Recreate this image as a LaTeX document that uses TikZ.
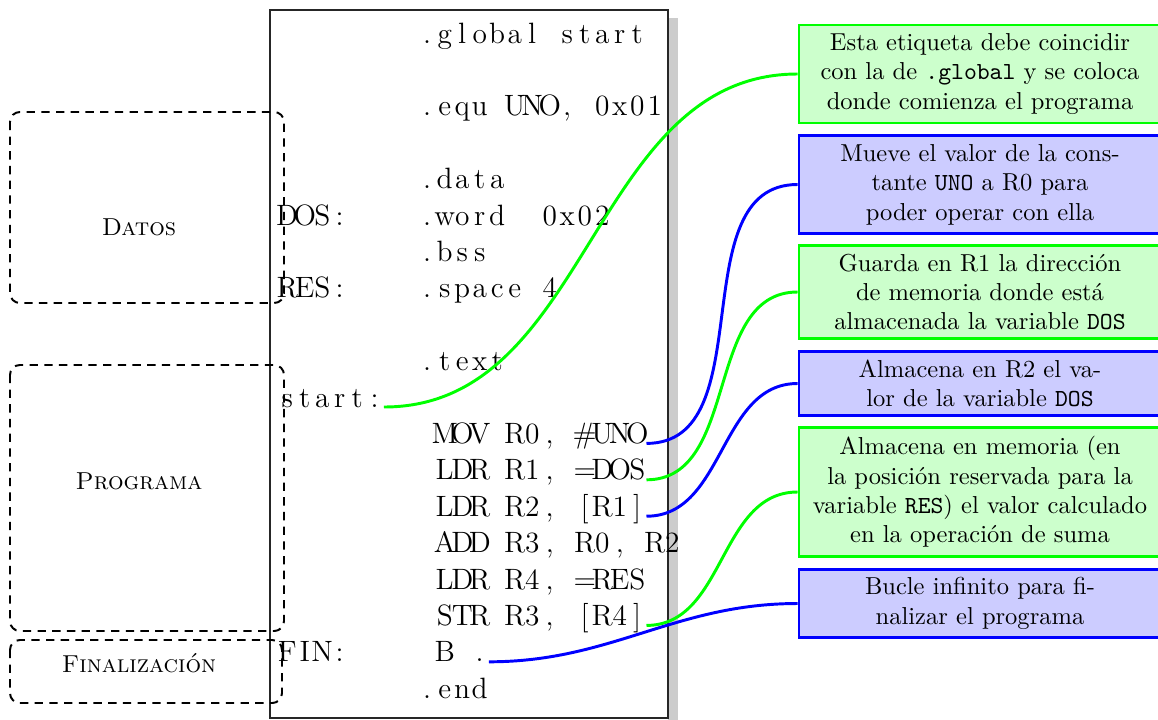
\documentclass[tikz,border=0pt]{standalone}
\usepackage{fontspec}

% fixed-pitch columns for the listing: every character sits centred in a cell
\newlength\colw
\setlength\colw{7.14pt}
\def\colsloop#1{\ifx\relax#1\else\hbox to\colw{\hss#1\hss}\expandafter\colsloop\fi}
\newcommand\cols[1]{\colsloop#1\relax}

\tikzset{
  code/.style={font=\fontsize{12}{14.5}\selectfont, inner sep=0pt, anchor=base west},
  area/.style={draw, dash pattern=on 3.4pt off 2.6pt, thick, rounded corners=4pt},
  arealabel/.style={font=\scshape, anchor=base},
  note/.style={line width=1.2pt, text width=140pt, align=center,
               inner xsep=3.85pt, inner ysep=3.5pt},
  gnote/.style={note, draw=green, fill=green!20},
  bnote/.style={note, draw=blue, fill=blue!20},
  glink/.style={green, line width=1.2pt},
  blink/.style={blue, line width=1.2pt},
}

\begin{document}
\begin{tikzpicture}[x=0.408pt, y=-0.408pt]
\clip (0,0) rectangle (1158,719);

% listing frame with its shadow
\fill[gray!40] (668,18) rectangle (678,730);
\draw[black!85, line width=0.5pt] (270,10) rectangle (668,718);

% program sections
\draw[area] (10,112) rectangle (284,303);
\draw[area] (10,365) rectangle (284,631);
\draw[area] (10,640) rectangle (282,703);
\node[arealabel] (datos) at (139,235) {Datos};
\node[arealabel] (programa) at (139,489) {Programa};
\node[arealabel] (final) at (139,672) {Finalización};

% source lines
\node[code] (c0)  at (418,43)    {\cols{.global~start}};
\node[code] (c2)  at (418,115.8) {\cols{.equ~UNO,~0x01}};
\node[code] (c4)  at (418,188.6) {\cols{.data}};
\node[code] (l5)  at (278,225)   {\cols{DOS:}};
\node[code] (c5)  at (418,225)   {\cols{.word~~0x02}};
\node[code] (c6)  at (418,261.4) {\cols{.bss}};
\node[code] (l7)  at (278,297.8) {\cols{RES:}};
\node[code] (c7)  at (418,297.8) {\cols{.space~4}};
\node[code] (c9)  at (418,370.6) {\cols{.text}};
\node[code] (l10) at (278,407)   {\cols{start:}};
\node[code] (c11) at (435.5,443.4) {\cols{MOV~R0,~\#UNO}};
\node[code] (c12) at (435.5,479.8) {\cols{LDR~R1,~=DOS}};
\node[code] (c13) at (435.5,516.2) {\cols{LDR~R2,~[R1]}};
\node[code] (c14) at (435.5,552.6) {\cols{ADD~R3,~R0,~R2}};
\node[code] (c15) at (435.5,589)   {\cols{LDR~R4,~=RES}};
\node[code] (c16) at (435.5,625.4) {\cols{STR~R3,~[R4]}};
\node[code] (l17) at (278,661.8) {\cols{FIN:}};
\node[code] (c17) at (435.5,661.8) {\cols{B~.}};
\node[code] (c18) at (418,698.2) {\cols{.end}};

% explanations
\node[gnote] (n1) at (980,74) {Esta etiqueta debe coincidir\\con la de \texttt{.global} y se coloca\\donde comienza el programa};
\node[bnote] (n2) at (980,184.5) {Mueve el valor de la cons-\\tante \texttt{UNO} a R0 para\\poder operar con ella};
\node[gnote] (n3) at (980,292) {Guarda en R1 la dirección\\de memoria donde está\\almacenada la variable \texttt{DOS}};
\node[bnote] (n4) at (980,383.5) {Almacena en R2 el va-\\lor de la variable \texttt{DOS}};
\node[gnote] (n5) at (980,492) {Almacena en memoria (en\\la posición reservada para la\\variable \texttt{RES}) el valor calculado\\en la operación de suma};
\node[bnote] (n6) at (980,603.5) {Bucle infinito para fi-\\nalizar el programa};

% links from the source lines to their explanations
\draw[glink] (l10.base east) to[out=0,in=180] (n1.west);
\draw[blink] (c11.base east) to[out=0,in=180] (n2.west);
\draw[glink] (c12.base east) to[out=0,in=180] (n3.west);
\draw[blink] (c13.base east) to[out=0,in=180] (n4.west);
\draw[glink] (c16.base east) to[out=0,in=180] (n5.west);
\draw[blink] (c17.base east) to[out=0,in=180] (n6.west);
\end{tikzpicture}
\end{document}
